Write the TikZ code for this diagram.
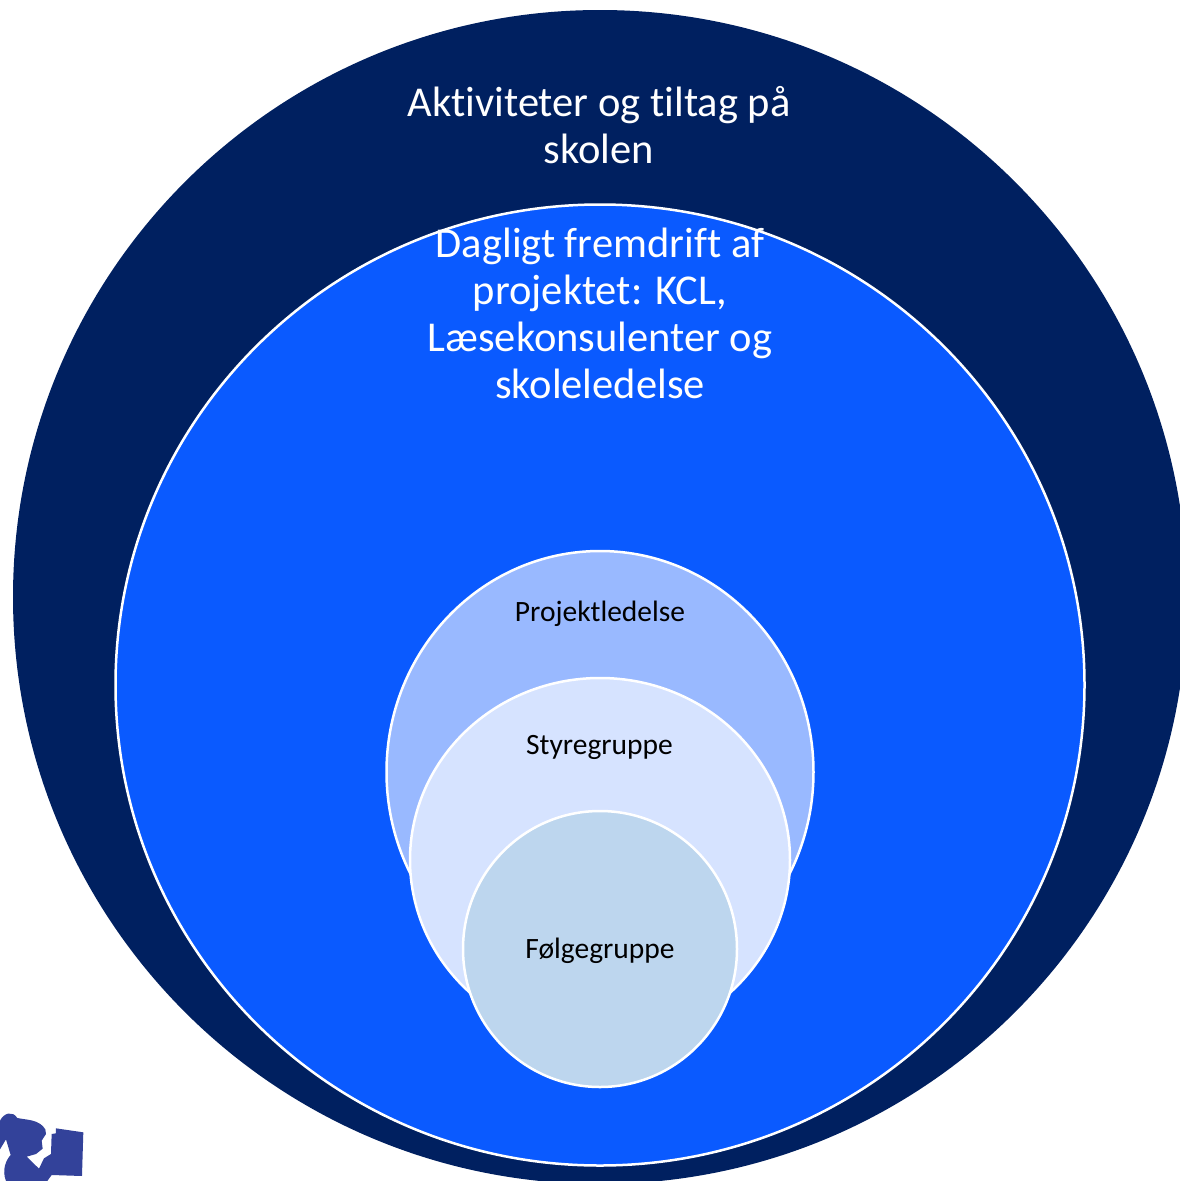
\documentclass[tikz,border=0pt]{standalone}
\usepackage{fontspec}
\setmainfont{Carlito}[Ligatures=NoCommon]
\usetikzlibrary{shapes.geometric}
\definecolor{navyc}{HTML}{002060}
\definecolor{bluec}{HTML}{0A5AFF}
\definecolor{paleA}{HTML}{99B9FF}
\definecolor{paleB}{HTML}{D6E3FF}
\definecolor{paleC}{HTML}{BDD6EE}
\definecolor{logoc}{HTML}{33429A}
\tikzset{
  x=1pt,y=-1pt,
  ring/.style={ellipse,draw=white,line width=2.5pt,inner sep=0pt,outer sep=0pt},
  bigtext/.style={text=white,align=center,font=\fontsize{42.5}{47}\selectfont,inner sep=0pt},
  smalltext/.style={text=black,align=center,font=\fontsize{29.5}{33}\selectfont,inner sep=0pt}
}
\begin{document}
\begin{tikzpicture}
\clip (0,0) rectangle (1180,1181);
\fill[white] (0,0) rectangle (1180,1181);
\node[ring,draw=none,fill=navyc,minimum width=1174pt,minimum height=1174pt] (outer) at (600,597) {};
\node[ring,fill=bluec,minimum width=969pt,minimum height=961pt] (daily) at (600,685) {};
\node[ring,fill=paleA,minimum width=427pt,minimum height=442pt] (lead) at (600,772) {};
\node[ring,fill=paleB,minimum width=380pt,minimum height=364pt] (steer) at (600,860) {};
\node[ring,fill=paleC,minimum width=274pt,minimum height=276pt] (follow) at (600,949) {};
\node[bigtext] (t1) at (599,125) {Aktiviteter og tiltag på\\skolen};
\node[bigtext] (t2) at (600,313) {Dagligt fremdrift af\\projektet: KCL,\\Læsekonsulenter og\\skoleledelse};
\node[smalltext] (t3) at (600,613.5) {Projektledelse};
\node[smalltext] (t4) at (599.5,747) {Styregruppe};
\node[smalltext] (t5) at (600,951) {Følgegruppe};
\begin{scope}[shift={(0,1090)},x=0.3333pt,y=-0.3333pt]
\fill[logoc] (0,92) .. controls (12,68) and (38,62) .. (52,84)
  .. controls (80,90) and (118,88) .. (136,118)
  -- (138,132) -- (125,152) -- (128,176) -- (108,192) -- (80,200)
  -- (117,236) -- (132,205) -- (153,192) -- (155,132) -- (168,130)
  -- (168,115) -- (250,127) -- (246,258) -- (155,255) -- (142,273)
  -- (18,273) .. controls (5,240) and (18,210) .. (32,195)
  -- (18,148) -- (0,178) -- cycle;
\end{scope}
\end{tikzpicture}
\end{document}
